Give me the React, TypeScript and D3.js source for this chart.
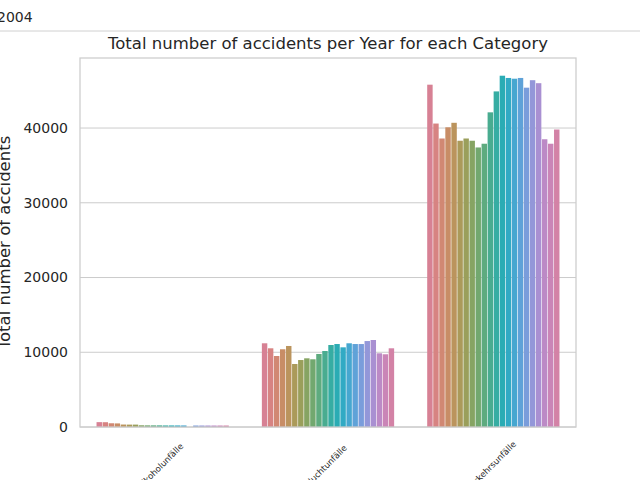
import React from "react";
import * as d3 from "d3";

const categories = ["Alkoholunfälle", "Fluchtunfälle", "Verkehrsunfälle"];
const years = d3.range(2000, 2022).map(String);
const alkohol = [650, 640, 500, 480, 330, 320, 320, 230, 220, 220, 220, 210, 210, 210, 210, NaN, 200, 200, 200, 200, 200, 200];
const flucht = [11200, 10530, 9500, 10400, 10840, 8430, 8960, 9190, 9060, 9770, 10170, 10970, 11100, 10660, 11200, 11100, 11100, 11500, 11640, 9860, 9730, 10530];
const verkehr = [45800, 40600, 38600, 40100, 40700, 38300, 38600, 38300, 37400, 37900, 42100, 44900, 47000, 46700, 46600, 46700, 45400, 46400, 46000, 38500, 37900, 39800];
const series = [alkohol, flucht, verkehr];
const yTicks = [0, 10000, 20000, 30000, 40000];

export default function App() {
  const W = 640, H = 480;
  const L = 80, R = 576, T = 58, B = 427;
  const x = d3.scaleBand().domain(categories).range([L, R]).paddingInner(0.2).paddingOuter(0.1);
  const bw = (R - L) / 3;
  const x0 = (c: string) => L + categories.indexOf(c) * bw + bw * 0.1;
  const inner = d3.scaleBand().domain(years).range([0, bw * 0.8]).paddingInner(0.1);
  const y = d3.scaleLinear().domain([0, 49370]).range([B, T]);
  const color = (i: number) => {
    const c = d3.hcl(8 + (i * 360) / 22, 36, 64).rgb();
    return c.formatHex();
  };
  const font = "DejaVu Sans, sans-serif";
  return (
    <svg width={W} height={H} style={{ position: "absolute", left: 0, top: 0 }} fontFamily={font}>
      <rect width={W} height={H} fill="#fff" />
      <text x={-3} y={22} fontSize={14} fill="#262626">2004</text>
      <line x1={0} x2={640} y1={31} y2={31} stroke="#d0d0d0" strokeWidth={1} />
      {yTicks.map((t) => (
        <g key={t}>
          <line x1={L} x2={R} y1={y(t)} y2={y(t)} stroke="#cccccc" strokeWidth={1} />
          <text x={L - 12} y={y(t)} dy="0.35em" textAnchor="end" fontSize={14} fill="#262626">{t}</text>
        </g>
      ))}
      {categories.map((c, ci) =>
        series[ci].map((v, i) =>
          isNaN(v) ? null : (
            <rect key={c + i} x={x0(c) + (inner(years[i]) as number)} width={inner.bandwidth()}
              y={y(v)} height={B - y(v)} fill={color(i)} />
          )
        )
      )}
      <rect x={L} y={T} width={R - L} height={B - T} fill="none" stroke="#cccccc" strokeWidth={1.25} />
      {categories.map((c) => {
        const cx = (x(c) as number) + x.bandwidth() / 2;
        return (
          <text key={c} transform={`translate(${cx},${468}) rotate(-45)`} textAnchor="middle" fontSize={8.5} fill="#262626">{c}</text>
        );
      })}
      <text x={(L + R) / 2} y={49} textAnchor="middle" fontSize={16.5} fill="#262626">
        Total number of accidents per Year for each  Category
      </text>
      <text transform={`translate(10,${(T + B) / 2}) rotate(-90)`} textAnchor="middle" fontSize={16.5} fill="#262626">
        Total number of accidents
      </text>
    </svg>
  );
}
